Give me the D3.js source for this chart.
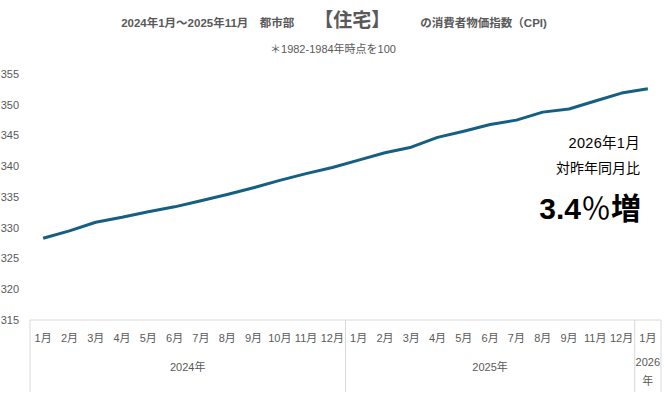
<!DOCTYPE html>
<html>
<head>
<meta charset="utf-8">
<script src="https://cdn.jsdelivr.net/npm/d3@7"></script>
<style>
  body { margin: 0; background: #fff; }
  svg { display: block; font-family: "Liberation Sans", Arial, "Noto Sans CJK JP", sans-serif; }
</style>
</head>
<body>
<div id="chart"></div>
<script>
// months shown on the axis (2025年10月 has no figure)
const periods = ['2024-01','2024-02','2024-03','2024-04','2024-05','2024-06','2024-07','2024-08','2024-09','2024-10','2024-11','2024-12',
                 '2025-01','2025-02','2025-03','2025-04','2025-05','2025-06','2025-07','2025-08','2025-09','2025-11','2025-12',
                 '2026-01'];
const monthLabels = ['1月','2月','3月','4月','5月','6月','7月','8月','9月','10月','11月','12月',
                     '1月','2月','3月','4月','5月','6月','7月','8月','9月','11月','12月',
                     '1月'];
const cpiValues = [328.3, 329.5, 330.9, 331.7, 332.6, 333.4, 334.4, 335.4, 336.5, 337.7, 338.8, 339.8,
                   341.0, 342.2, 343.1, 344.7, 345.7, 346.8, 347.5, 348.8, 349.3, 350.6, 351.9,
                   352.6];
const yearLabels = [['2024年'], ['2025年'], ['2026', '年']];
const yearCounts = [12, 11, 1];
const yTicks = [315, 320, 325, 330, 335, 340, 345, 350, 355];

const width = 667, height = 396;
const svg = d3.select('#chart').append('svg')
  .attr('width', width)
  .attr('height', height);

const x = d3.scaleBand().domain(periods).range([30, 661]).padding(0);
const y = d3.scaleLinear().domain([315, 355]).range([320, 74]);
const gray = '#595959';
const lineGray = '#d9d9d9';

// title
const title = svg.append('text')
  .attr('x', 334).attr('y', 27)
  .attr('text-anchor', 'middle')
  .attr('fill', gray)
  .style('font-weight', 'bold');
title.append('tspan').style('font-size', '11.5px').text('2024年1月～2025年11月　都市部');
title.append('tspan').attr('dx', 20).style('font-size', '19px').text('【住宅】');
title.append('tspan').attr('dx', 30).style('font-size', '11.5px').text('の消費者物価指数（CPI)');

svg.append('text')
  .attr('x', 333).attr('y', 53)
  .attr('text-anchor', 'middle')
  .attr('fill', gray)
  .style('font-size', '11px')
  .text('＊1982-1984年時点を100');

// y axis labels (no gridlines)
svg.append('g').selectAll('text')
  .data(yTicks)
  .join('text')
    .attr('x', 19)
    .attr('y', d => y(d))
    .attr('dy', '0.35em')
    .attr('text-anchor', 'end')
    .attr('fill', gray)
    .style('font-size', '11px')
    .text(d => d);

// category axis
const axis = svg.append('g');
axis.append('line')
  .attr('x1', x.range()[0]).attr('x2', x.range()[1])
  .attr('y1', y(315)).attr('y2', y(315))
  .attr('stroke', lineGray);

axis.selectAll('.month')
  .data(periods)
  .join('text')
    .attr('class', 'month')
    .attr('x', d => x(d) + x.bandwidth() / 2)
    .attr('y', 338)
    .attr('dy', '0.35em')
    .attr('text-anchor', 'middle')
    .attr('fill', gray)
    .style('font-size', '11px')
    .text((d, i) => monthLabels[i]);

// year groups
let start = 0;
const groups = yearCounts.map((n, i) => {
  const g = { label: yearLabels[i], from: periods[start], to: periods[start + n - 1] };
  start += n;
  return g;
});
const bounds = [x(periods[0])].concat(groups.map(g => x(g.to) + x.bandwidth()));
axis.selectAll('.divider')
  .data(bounds)
  .join('line')
    .attr('class', 'divider')
    .attr('x1', d => d).attr('x2', d => d)
    .attr('y1', y(315)).attr('y2', 392)
    .attr('stroke', lineGray);

groups.forEach(g => {
  const cx = (x(g.from) + x(g.to) + x.bandwidth()) / 2;
  const t = axis.append('text')
    .attr('text-anchor', 'middle')
    .attr('fill', gray)
    .style('font-size', '11px');
  const y0 = g.label.length > 1 ? 362 : 367;
  g.label.forEach((s, k) => {
    t.append('tspan').attr('x', cx).attr('y', y0 + k * 19).attr('dy', '0.35em').text(s);
  });
});

// line
const line = d3.line()
  .x((d, i) => x(periods[i]) + x.bandwidth() / 2)
  .y(d => y(d));
svg.append('path')
  .datum(cpiValues)
  .attr('fill', 'none')
  .attr('stroke', '#155f82')
  .attr('stroke-width', 3)
  .attr('stroke-linejoin', 'round')
  .attr('d', line);

// annotation
const note = svg.append('g').attr('text-anchor', 'end').attr('fill', '#000');
note.append('text').attr('x', 640).attr('y', 143).attr('dy', '0.35em')
  .style('font-size', '14.5px').style('letter-spacing', '0.3px').text('2026年1月');
note.append('text').attr('x', 640).attr('y', 168).attr('dy', '0.35em')
  .style('font-size', '14px').text('対昨年同月比');
const big = note.append('text').attr('x', 641).attr('y', 208).attr('dy', '0.35em')
  .style('font-size', '30px').style('font-weight', 'bold');
big.append('tspan').text('3.4');
big.append('tspan').style('font-family', '"Noto Sans CJK JP", sans-serif').style('font-weight', 'normal').text('％');
big.append('tspan').style('font-family', '"Noto Sans CJK JP", sans-serif').text('増');
</script>
</body>
</html>
